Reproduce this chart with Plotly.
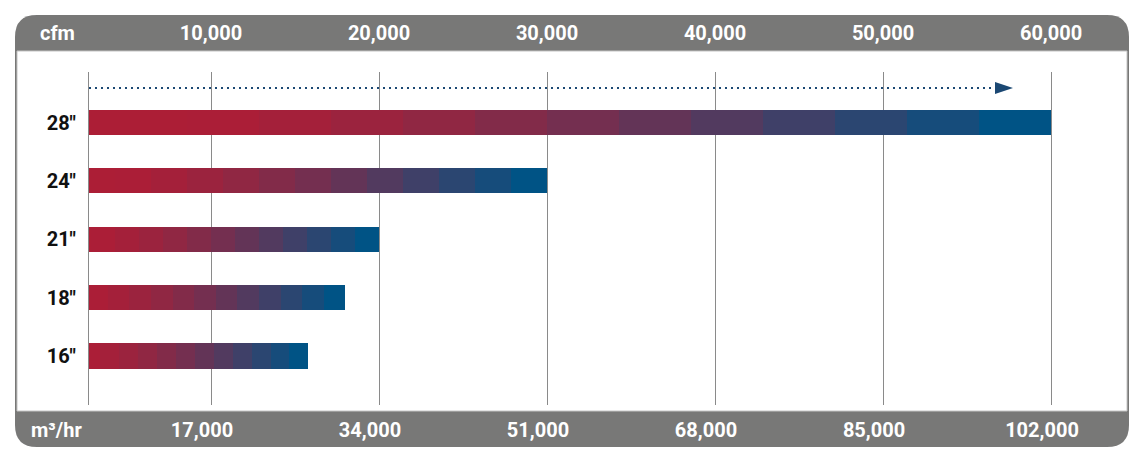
import plotly.graph_objects as go

# ---- data ----
sizes = ['16"', '18"', '21"', '24"', '28"']
cfm_values = [15800, 18000, 20000, 30000, 60000]
cfm_ticks = [10000, 20000, 30000, 40000, 50000, 60000]
m3h_ticks = [17000, 34000, 51000, 68000, 85000, 102000]

# ---- layout geometry (pixels) ----
W, H = 1146, 459
L, R, T, B = 89, 1128, 72, 405
PW, PH = R - L, B - T


def px(x):
    return (x - L) / PW


def py(y):
    return (B - y) / PH


def rrect_path(x0, y0, x1, y1, r):
    pts = [
        ("M", [(x0 + r, y0)]),
        ("L", [(x1 - r, y0)]),
        ("Q", [(x1, y0), (x1, y0 + r)]),
        ("L", [(x1, y1 - r)]),
        ("Q", [(x1, y1), (x1 - r, y1)]),
        ("L", [(x0 + r, y1)]),
        ("Q", [(x0, y1), (x0, y1 - r)]),
        ("L", [(x0, y0 + r)]),
        ("Q", [(x0, y0), (x0 + r, y0)]),
    ]
    s = ""
    for cmd, ps in pts:
        s += cmd + " " + " ".join(f"{px(a):.5f},{py(b):.5f}" for a, b in ps) + " "
    return s + "Z"


# gradient colours
RED = (172, 30, 54)
BLUE = (0, 83, 133)
N_SEG = 14


def seg_color(k):
    t = k / (N_SEG - 1)
    t = max(0.0, (t - 0.12) / 0.88) ** 1.5
    c = [round(RED[i] + (BLUE[i] - RED[i]) * t) for i in range(3)]
    return f"rgb({c[0]},{c[1]},{c[2]})"


fig = go.Figure()

for k in range(N_SEG):
    fig.add_trace(go.Bar(
        y=sizes,
        x=[v / N_SEG for v in cfm_values],
        base=[v * k / N_SEG for v in cfm_values],
        orientation="h",
        width=0.43,
        marker=dict(color=seg_color(k), line=dict(width=0)),
        showlegend=False,
        hoverinfo="skip",
        xaxis="x",
        yaxis="y",
    ))

# helper trace so the m3/hr axis renders
fig.add_trace(go.Scatter(
    x=[m3h_ticks[0]], y=[sizes[0]], mode="markers",
    marker=dict(opacity=0), showlegend=False, hoverinfo="skip",
    xaxis="x2", yaxis="y",
))

FONT = "Roboto, Liberation Sans Narrow, DejaVu Sans Condensed, sans-serif"
tick_font = dict(family=FONT, size=20, color="white", weight="bold")

shapes = [
    # grey panel
    dict(type="path", path=rrect_path(15, 15, 1129, 447, 22), xref="paper", yref="paper",
         fillcolor="#787877", line=dict(width=0), layer="below"),
    # white inner area
    dict(type="rect", x0=px(17), x1=px(1127), y0=py(411), y1=py(51), xref="paper", yref="paper",
         fillcolor="white", line=dict(width=1, color="#c4c4c4"), layer="below"),
    # dotted arrow line
    dict(type="line", x0=px(89), x1=px(998), y0=py(88), y1=py(88), xref="paper", yref="paper",
         line=dict(color="#1b4873", width=2, dash="2px,4px"), layer="above"),
    # arrow head
    dict(type="path",
         path=f"M {px(995):.5f},{py(82):.5f} L {px(1013):.5f},{py(88):.5f} L {px(995):.5f},{py(94):.5f} Z",
         xref="paper", yref="paper", fillcolor="#1b4873", line=dict(width=0), layer="above"),
]

annotations = [
    dict(text="cfm", x=px(38), y=py(33), xref="paper", yref="paper", xanchor="left", yanchor="middle",
         showarrow=False, font=tick_font),
    dict(text="m³/hr", x=px(29), y=py(430), xref="paper", yref="paper", xanchor="left", yanchor="middle",
         showarrow=False, font=tick_font),
]

fig.update_layout(
    width=W, height=H,
    margin=dict(l=L, r=W - R, t=T, b=H - B, pad=0),
    paper_bgcolor="white",
    plot_bgcolor="rgba(0,0,0,0)",
    barmode="overlay",
    bargap=0,
    showlegend=False,
    shapes=shapes,
    annotations=annotations,
    xaxis=dict(
        side="top",
        range=[2738, 64580],
        tickvals=cfm_ticks,
        tickformat=",",
        ticks="",
        ticklabelstandoff=27,
        tickfont=tick_font,
        showgrid=True, gridcolor="#8a8a8a", gridwidth=1,
        zeroline=False, showline=False,
        fixedrange=True,
    ),
    xaxis2=dict(
        overlaying="x",
        side="bottom",
        anchor="y",
        range=[5566, 110700],
        tickvals=m3h_ticks,
        tickformat=",",
        ticks="",
        ticklabelstandoff=11,
        tickfont=tick_font,
        showgrid=False, zeroline=False, showline=False,
        fixedrange=True,
    ),
    yaxis=dict(
        type="category",
        categoryorder="array",
        categoryarray=sizes,
        range=[-0.839, 4.865],
        ticks="",
        ticklabelstandoff=8,
        tickfont=dict(family=FONT, size=20, color="#111111", weight="bold"),
        showgrid=False, zeroline=False,
        showline=True, linecolor="#8a8a8a", linewidth=1,
        fixedrange=True,
    ),
)

fig.write_html(
    "out.html",
    config={"displayModeBar": False},
    post_script="document.body.style.margin='0';document.body.style.overflow='hidden';",
)
